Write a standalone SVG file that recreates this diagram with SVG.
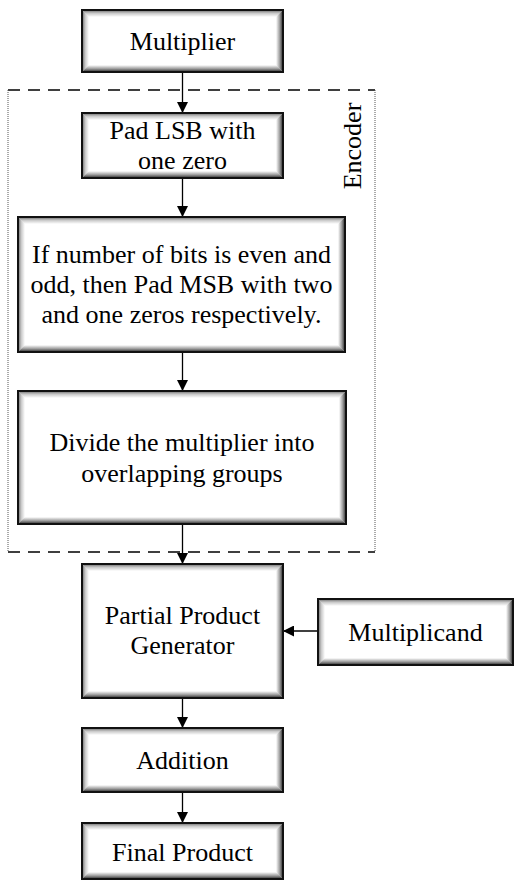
<svg xmlns="http://www.w3.org/2000/svg" width="515" height="881" viewBox="0 0 515 881">
<defs>
<style>
.bx{fill:#fff}
.bd{fill:none;stroke:#111;stroke-width:2}
.gt{fill:url(#gT)}
.gl{fill:url(#gL)}
.gr{fill:url(#gR)}
.gb{fill:url(#gB)}
.t{font-family:"Times New Roman","Liberation Serif",Times,serif;font-size:26px;fill:#000;text-anchor:middle}
.c{stroke:#000;stroke-width:1.3;fill:none}
.dash{stroke:#000;stroke-width:1.4;stroke-dasharray:12 8;fill:none}
.dot{stroke:#555;stroke-width:1;stroke-dasharray:1 1;fill:none}
</style>
<linearGradient id="gT" x1="0" y1="0" x2="0" y2="1"><stop offset="0" stop-color="#000" stop-opacity="0.6"/><stop offset="0.45" stop-color="#000" stop-opacity="0.22"/><stop offset="1" stop-color="#000" stop-opacity="0"/></linearGradient>
<linearGradient id="gL" x1="0" y1="0" x2="1" y2="0"><stop offset="0" stop-color="#000" stop-opacity="0.6"/><stop offset="0.45" stop-color="#000" stop-opacity="0.22"/><stop offset="1" stop-color="#000" stop-opacity="0"/></linearGradient>
<linearGradient id="gR" x1="1" y1="0" x2="0" y2="0"><stop offset="0" stop-color="#000" stop-opacity="0.85"/><stop offset="0.45" stop-color="#000" stop-opacity="0.4"/><stop offset="1" stop-color="#000" stop-opacity="0"/></linearGradient>
<linearGradient id="gB" x1="0" y1="1" x2="0" y2="0"><stop offset="0" stop-color="#000" stop-opacity="0.85"/><stop offset="0.45" stop-color="#000" stop-opacity="0.4"/><stop offset="1" stop-color="#000" stop-opacity="0"/></linearGradient>
<marker id="ah" viewBox="0 0 10 10" markerUnits="userSpaceOnUse" markerWidth="14" markerHeight="11" refX="10" refY="5" orient="auto">
<path d="M0,0 L10,5 L0,10 z" fill="#000"/>
</marker>
</defs>
<rect width="515" height="881" fill="#fff"/>

<g id="encoder">
<path class="dash" d="M8,90 H375 M8,552 H375"/>
<path class="dot" d="M8,90 V552 M375,90 V552"/>
<text class="t" transform="translate(361,146) rotate(-90)">Encoder</text>
</g>

<g id="connectors">
<path class="c" marker-end="url(#ah)" d="M182.5,72 V113"/>
<path class="c" marker-end="url(#ah)" d="M182.5,178 V217"/>
<path class="c" marker-end="url(#ah)" d="M182.5,352 V391"/>
<path class="c" marker-end="url(#ah)" d="M182.5,524 V564"/>
<path class="c" marker-end="url(#ah)" d="M318,631 H283"/>
<path class="c" marker-end="url(#ah)" d="M182.5,698 V728"/>
<path class="c" marker-end="url(#ah)" d="M182.5,792 V823"/>
</g>

<g id="multiplier">
<rect class="bx" x="82" y="10" width="201" height="62"/>
<polygon class="gt" points="82,10 283,10 276,17 89,17"/>
<polygon class="gb" points="82,72 283,72 276,65 89,65"/>
<polygon class="gl" points="82,10 89,17 89,65 82,72"/>
<polygon class="gr" points="283,10 276,17 276,65 283,72"/>
<rect class="bd" x="82" y="10" width="201" height="62"/>
<text class="t" x="182.5" y="50">Multiplier</text>
</g>

<g id="padlsb">
<rect class="bx" x="82" y="113" width="201" height="65"/>
<polygon class="gt" points="82,113 283,113 276,120 89,120"/>
<polygon class="gb" points="82,178 283,178 276,171 89,171"/>
<polygon class="gl" points="82,113 89,120 89,171 82,178"/>
<polygon class="gr" points="283,113 276,120 276,171 283,178"/>
<rect class="bd" x="82" y="113" width="201" height="65"/>
<text class="t" x="182.5" y="139">Pad LSB with</text>
<text class="t" x="182.5" y="169">one zero</text>
</g>

<g id="padmsb">
<rect class="bx" x="18" y="217" width="327" height="135"/>
<polygon class="gt" points="18,217 345,217 338,224 25,224"/>
<polygon class="gb" points="18,352 345,352 338,345 25,345"/>
<polygon class="gl" points="18,217 25,224 25,345 18,352"/>
<polygon class="gr" points="345,217 338,224 338,345 345,352"/>
<rect class="bd" x="18" y="217" width="327" height="135"/>
<text class="t" x="181.5" y="263">If number of bits is even and</text>
<text class="t" x="181.5" y="293">odd, then Pad MSB with two</text>
<text class="t" x="181.5" y="323">and one zeros respectively.</text>
</g>

<g id="divide">
<rect class="bx" x="18" y="391" width="328" height="133"/>
<polygon class="gt" points="18,391 346,391 339,398 25,398"/>
<polygon class="gb" points="18,524 346,524 339,517 25,517"/>
<polygon class="gl" points="18,391 25,398 25,517 18,524"/>
<polygon class="gr" points="346,391 339,398 339,517 346,524"/>
<rect class="bd" x="18" y="391" width="328" height="133"/>
<text class="t" x="182" y="451">Divide the multiplier into</text>
<text class="t" x="182" y="482">overlapping groups</text>
</g>

<g id="ppg">
<rect class="bx" x="82" y="564" width="201" height="134"/>
<polygon class="gt" points="82,564 283,564 276,571 89,571"/>
<polygon class="gb" points="82,698 283,698 276,691 89,691"/>
<polygon class="gl" points="82,564 89,571 89,691 82,698"/>
<polygon class="gr" points="283,564 276,571 276,691 283,698"/>
<rect class="bd" x="82" y="564" width="201" height="134"/>
<text class="t" x="182.5" y="624">Partial Product</text>
<text class="t" x="182.5" y="654">Generator</text>
</g>

<g id="multiplicand">
<rect class="bx" x="318" y="599" width="195" height="66"/>
<polygon class="gt" points="318,599 513,599 506,606 325,606"/>
<polygon class="gb" points="318,665 513,665 506,658 325,658"/>
<polygon class="gl" points="318,599 325,606 325,658 318,665"/>
<polygon class="gr" points="513,599 506,606 506,658 513,665"/>
<rect class="bd" x="318" y="599" width="195" height="66"/>
<text class="t" x="415.5" y="641">Multiplicand</text>
</g>

<g id="addition">
<rect class="bx" x="82" y="728" width="201" height="64"/>
<polygon class="gt" points="82,728 283,728 276,735 89,735"/>
<polygon class="gb" points="82,792 283,792 276,785 89,785"/>
<polygon class="gl" points="82,728 89,735 89,785 82,792"/>
<polygon class="gr" points="283,728 276,735 276,785 283,792"/>
<rect class="bd" x="82" y="728" width="201" height="64"/>
<text class="t" x="182.5" y="769">Addition</text>
</g>

<g id="final">
<rect class="bx" x="82" y="823" width="201" height="56"/>
<polygon class="gt" points="82,823 283,823 276,830 89,830"/>
<polygon class="gb" points="82,879 283,879 276,872 89,872"/>
<polygon class="gl" points="82,823 89,830 89,872 82,879"/>
<polygon class="gr" points="283,823 276,830 276,872 283,879"/>
<rect class="bd" x="82" y="823" width="201" height="56"/>
<text class="t" x="182.5" y="861">Final Product</text>
</g>
</svg>
